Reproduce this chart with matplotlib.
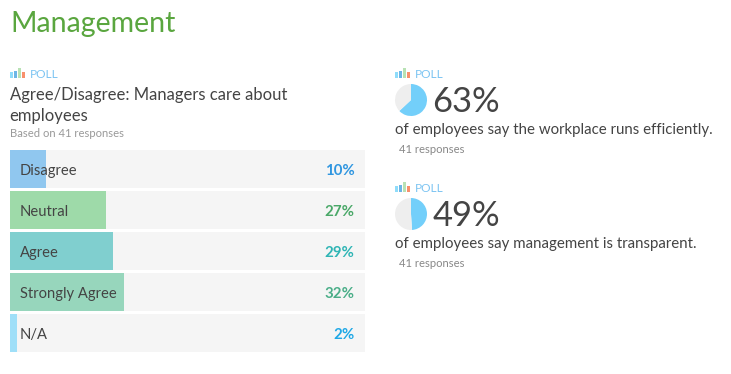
import matplotlib
matplotlib.use("Agg")
import matplotlib.pyplot as plt

W, H = 731, 374
FONT = ["Lato", "Noto Sans", "DejaVu Sans"]
plt.rcParams["font.family"] = FONT

categories = ["Disagree", "Neutral", "Agree", "Strongly Agree", "N/A"]
values = [10, 27, 29, 32, 2]
bar_colors = ["#90c7ef", "#9edaa9", "#80cfcf", "#97d6bc", "#9fdff8"]
pct_colors = ["#2f96e0", "#4aa868", "#2fb5b5", "#4aae88", "#1fa8e6"]
poll_values = [63, 49]
poll_texts = ["of employees say the workplace runs efficiently.",
              "of employees say management is transparent."]
poll_responses = ["41 responses", "41 responses"]
icon_heights = [6, 7.5, 10, 6.5]
icon_colors = ["#8fdcfa", "#6db6e6", "#b8e2b4", "#f8906c"]

fig = plt.figure(figsize=(W / 100, H / 100), dpi=100, facecolor="white")


def axpx(x0, y0, x1, y1):
    ax = fig.add_axes([x0 / W, 1 - y1 / H, (x1 - x0) / W, (y1 - y0) / H])
    ax.axis("off")
    return ax


def txt(x, y, s, size, color, **kw):
    kw.setdefault("va", "center")
    kw.setdefault("ha", "left")
    fig.text(x / W, 1 - y / H, s, fontsize=size, color=color, **kw)


def poll_tag(x, y):
    ax = axpx(x, y - 5.5, x + 15.5, y + 4.5)
    ax.bar(range(4), icon_heights, width=0.8, color=icon_colors)
    ax.set_xlim(-0.5, 3.5)
    ax.set_ylim(0, 10)
    txt(x + 20, y + 0.5, "POLL", 8.6, "#7cc4f2")


# Title
txt(10, 24, "Management", 20.5, "#5aa63f")

# Left poll
poll_tag(10, 73.5)
txt(9.5, 95, "Agree/Disagree: Managers care about", 12.0, "#444444")
txt(9.5, 115.5, "employees", 12.0, "#444444")
txt(10, 133.5, "Based on 41 responses", 8.1, "#999999")

ax = axpx(10, 150, 365, 352)
ypos = list(range(len(categories)))
ax.barh(ypos, [100] * len(values), height=38 / 41, color="#f5f5f5")
ax.barh(ypos, values, height=38 / 41, color=bar_colors)
ax.set_xlim(0, 100)
ax.set_ylim(len(values) - 0.5 - (3 / 41) / 2 + 0, -0.5 + (3 / 41) / 2)
for y, c, v, pc in zip(ypos, categories, values, pct_colors):
    ax.text(2.8, y + 0.055, c, fontsize=10.6, color="#444444", va="center", ha="left")
    ax.text(97.1, y + 0.055, f"{v}%", fontsize=10.8, color=pc, va="center", ha="right",
            fontweight="bold")

# Right polls
for top, v, t, r in zip([73.5, 187.5], poll_values, poll_texts, poll_responses):
    poll_tag(395, top)
    cy = top + 26.5
    pax = axpx(394, cy - 17, 428, cy + 17)
    pax.pie([v, 100 - v], colors=["#73cffa", "#eeeeee"], startangle=90,
            counterclock=False, radius=1)
    pax.set_xlim(-17 / 16, 17 / 16)
    pax.set_ylim(-17 / 16, 17 / 16)
    txt(432.5, cy + 2, f"{v}%", 24.8, "#444444")
    txt(395, cy + 30.5, t, 10.85, "#444444")
    txt(398.5, cy + 49.5, r, 8.1, "#888888")

fig.savefig("out.png", dpi=100, facecolor="white")
